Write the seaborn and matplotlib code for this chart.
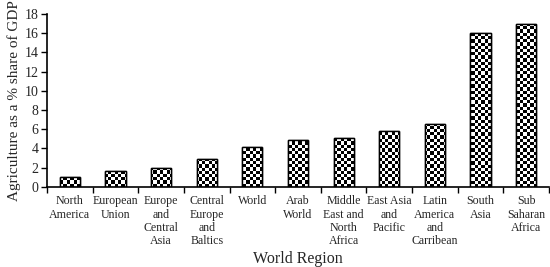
import numpy as np
import pandas as pd
import matplotlib
matplotlib.use("Agg")
import matplotlib.pyplot as plt
import seaborn as sns

regions = ["North\nAmerica", "European\nUnion", "Europe\nand\nCentral\nAsia",
           "Central\nEurope\nand\nBaltics", "World", "Arab\nWorld",
           "Middle\nEast and\nNorth\nAfrica", "East Asia\nand\nPacific",
           "Latin\nAmerica\nand\nCarribean", "South\nAsia", "Sub\nSaharan\nAfrica"]
values = [1.0, 1.7, 2.0, 2.9, 4.1, 4.9, 5.1, 5.8, 6.5, 16.0, 16.9]
yticks = [0, 2, 4, 6, 8, 10, 12, 14, 16, 18]

sns.set_theme(style="ticks")
plt.rcParams['font.family'] = ['Liberation Serif', 'DejaVu Serif']

df = pd.DataFrame({"region": regions, "value": values})

fig = plt.figure(figsize=(5.5, 2.67), dpi=100)
ax = fig.add_axes([0.0855, 0.30, 0.9125, 0.648])
sns.barplot(data=df, x="region", y="value", ax=ax, width=0.44,
            color="white", edgecolor="black", linewidth=1.0, saturation=1)

ax.set_ylim(0, 18)
ax.set_xlim(-0.5, len(regions) - 0.5)
ax.set_yticks(yticks)
ax.set_yticklabels([str(t) for t in yticks], fontsize=10)
ax.set_xticks(np.arange(len(regions)))
ax.set_xticklabels(regions, fontsize=8.6, linespacing=1.15, va="top")
ax.tick_params(axis="x", length=0, pad=6)
ax.set_xticks(np.arange(len(regions) + 1) - 0.5, minor=True)
ax.tick_params(axis="x", which="minor", length=4, width=1, color="black", direction="out")
ax.tick_params(axis="y", length=4, width=1, color="black", direction="out", pad=2)
for s in ["top", "right"]:
    ax.spines[s].set_visible(False)
for s in ["left", "bottom"]:
    ax.spines[s].set_color("black")
    ax.spines[s].set_linewidth(1.2)

ax.set_ylabel("Agriculture as a % share of GDP", fontsize=11, labelpad=3)
ax.set_xlabel("World Region", fontsize=11.5, labelpad=3)

# checkerboard fill clipped to each bar
nx, ny = 156, 54
checker = (np.indices((ny, nx)).sum(axis=0) % 2).astype(float)
for bar in ax.patches:
    im = ax.imshow(checker, cmap="gray", vmin=0, vmax=1, interpolation="nearest",
                   extent=(-0.5, len(regions) - 0.5, 0, 18), aspect="auto", zorder=bar.get_zorder() + 0.1)
    im.set_clip_path(bar)
    outline = plt.Rectangle(bar.get_xy(), bar.get_width(), bar.get_height(),
                            fill=False, edgecolor="black", linewidth=1.0,
                            zorder=bar.get_zorder() + 0.2)
    ax.add_patch(outline)

ax.set_xlim(-0.5, len(regions) - 0.5)
ax.set_ylim(0, 18)

fig.savefig("out.png", dpi=100)
